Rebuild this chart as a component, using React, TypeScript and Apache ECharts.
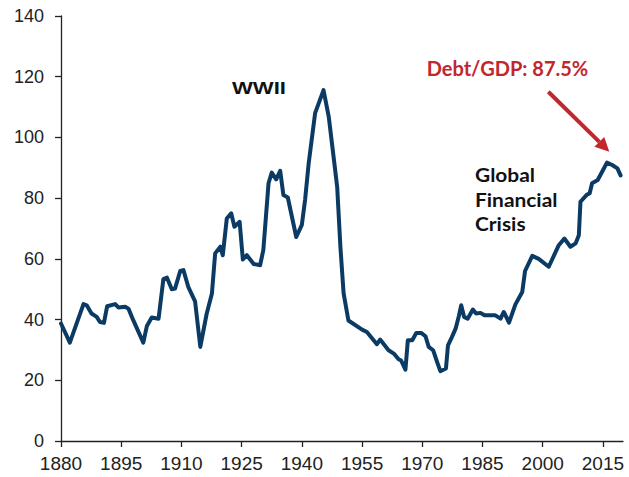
import React, { useEffect, useRef } from "react";
import * as echarts from "echarts";

// Debt/GDP (%), [year] and [value] pairs at turning points
const years = [
  1880.0, 1882.2, 1885.6, 1886.4, 1887.6, 1888.9, 1889.7, 1890.7, 1891.5, 1893.5,
  1894.3, 1896.0, 1896.8, 1898.0, 1900.5, 1901.4, 1902.6, 1904.3, 1905.5, 1906.4,
  1907.6, 1908.4, 1909.7, 1910.5, 1911.7, 1913.4, 1914.7, 1916.3, 1917.6, 1918.4,
  1919.7, 1920.3, 1921.3, 1922.4, 1923.2, 1924.5, 1925.3, 1926.3, 1928.0, 1929.6,
  1930.4, 1931.7, 1932.5, 1933.6, 1934.6, 1935.4, 1936.5, 1938.6, 1940.0, 1940.8,
  1941.7, 1943.3, 1945.4, 1946.7, 1947.9, 1948.8, 1949.6, 1950.4, 1951.6, 1955.0,
  1956.2, 1958.7, 1959.5, 1961.6, 1962.9, 1964.1, 1964.7, 1965.8, 1966.4, 1967.5,
  1968.5, 1969.7, 1970.8, 1971.6, 1972.7, 1973.7, 1974.5, 1975.9, 1976.4, 1977.4,
  1978.3, 1979.1, 1979.7, 1980.4, 1981.3, 1982.6, 1983.4, 1984.5, 1985.5, 1988.2,
  1989.5, 1990.3, 1991.6, 1993.2, 1994.9, 1995.6, 1997.4, 1999.0, 2001.5, 2004.0,
  2005.4, 2006.9, 2008.2, 2009.0, 2009.4, 2010.9, 2011.7, 2012.3, 2013.7, 2014.8,
  2016.0, 2017.3, 2018.6, 2019.4,
];
const debtToGdp = [
  38.7, 32.4, 45.1, 44.7, 42.0, 40.9, 39.2, 38.9, 44.4, 45.1,
  44.0, 44.2, 43.6, 39.8, 32.4, 37.9, 40.7, 40.3, 53.3, 53.8,
  50.0, 50.2, 56.0, 56.3, 50.8, 46.0, 31.0, 42.0, 48.6, 61.8,
  64.0, 61.2, 73.3, 75.0, 70.6, 72.2, 59.8, 61.2, 58.3, 57.9,
  62.9, 84.9, 88.4, 86.2, 89.0, 81.0, 80.2, 67.2, 71.2, 79.4,
  91.5, 108.0, 115.6, 106.8, 93.6, 83.7, 64.0, 48.6, 39.7, 36.7,
  35.9, 31.9, 33.4, 29.9, 28.8, 26.9, 26.6, 23.5, 33.2, 33.2,
  35.6, 35.6, 34.5, 31.0, 29.9, 26.0, 23.0, 23.9, 31.5, 34.3,
  37.0, 41.1, 44.7, 40.9, 40.3, 43.3, 42.0, 42.2, 41.4, 41.4,
  40.3, 42.5, 39.0, 45.0, 49.1, 56.0, 61.0, 60.0, 57.4, 64.5,
  66.7, 64.0, 65.1, 67.8, 78.8, 81.0, 81.6, 84.9, 86.0, 88.7,
  91.7, 90.9, 89.8, 87.5,
];
const xTickYears = [1880, 1895, 1910, 1925, 1940, 1955, 1970, 1985, 2000, 2015];
const xMin = 1880;
const xMax = 2020;
const yTicks = [0, 20, 40, 60, 80, 100, 120, 140];

const wwiiLabel = "WWII";
const gfcLabel = "Global\nFinancial\nCrisis";
const debtLabel = "Debt/GDP: 87.5%";

const LINE_COLOR = "#0b3b64";
const RED = "#c1272d";
const AXIS_COLOR = "#222222";

export default function App() {
  const ref = useRef<HTMLDivElement>(null);

  useEffect(() => {
    if (!ref.current) return;
    const chart = echarts.init(ref.current, undefined, { renderer: "svg" });

    // arrow geometry (annotation)
    const start = [548.3, 91.7];
    const tip = [609.3, 151.7];
    const dx = tip[0] - start[0];
    const dy = tip[1] - start[1];
    const len = Math.hypot(dx, dy);
    const ux = dx / len;
    const uy = dy / len;
    const headLen = 14;
    const headHalf = 7;
    const bx = tip[0] - ux * headLen;
    const by = tip[1] - uy * headLen;
    const nx = -uy;
    const ny = ux;

    chart.setOption({
      animation: false,
      backgroundColor: "#ffffff",
      grid: { left: 61, right: 6, top: 16, bottom: 36, containLabel: false },
      xAxis: {
        type: "value",
        min: xMin,
        max: xMax,
        axisLine: { show: true, lineStyle: { color: AXIS_COLOR, width: 1.3 } },
        axisTick: {
          show: true,
          length: 6,
          customValues: xTickYears,
          lineStyle: { color: AXIS_COLOR, width: 1.3 },
        },
        axisLabel: {
          customValues: xTickYears,
          margin: 13,
          color: AXIS_COLOR,
          fontSize: 19,
          fontFamily: "Liberation Sans, Arial, sans-serif",
          formatter: (v: number) => String(v),
        },
        splitLine: { show: false },
      },
      yAxis: {
        type: "value",
        min: yTicks[0],
        max: yTicks[yTicks.length - 1],
        interval: 20,
        axisLine: { show: true, lineStyle: { color: AXIS_COLOR, width: 1.3 } },
        axisTick: { show: true, length: 6, lineStyle: { color: AXIS_COLOR, width: 1.3 } },
        axisLabel: {
          margin: 17,
          color: AXIS_COLOR,
          fontSize: 18,
          fontFamily: "Liberation Sans, Arial, sans-serif",
        },
        splitLine: { show: false },
      },
      series: [
        {
          type: "line",
          data: years.map((y, i) => [y, debtToGdp[i]]),
          showSymbol: false,
          symbol: "none",
          lineStyle: { color: LINE_COLOR, width: 4, join: "round", cap: "round" },
        },
      ],
      graphic: [
        {
          type: "text",
          x: 232,
          y: 79,
          scaleX: 1.3,
          style: {
            text: wwiiLabel,
            fill: "#111",
            font: 'bold 17px "Liberation Sans", Arial, sans-serif',
            textAlign: "left",
            textVerticalAlign: "top",
          },
        },
        {
          type: "text",
          x: 475,
          y: 162,
          scaleX: 1.1,
          style: {
            text: gfcLabel,
            fill: "#111",
            font: 'bold 19px Lato, sans-serif',
            lineHeight: 24.7,
            textAlign: "left",
            textVerticalAlign: "top",
          },
        },
        {
          type: "text",
          x: 426.7,
          y: 58,
          scaleX: 1.0,
          style: {
            text: debtLabel,
            fill: RED,
            font: 'bold 20px Lato, sans-serif',
            textAlign: "left",
            textVerticalAlign: "top",
          },
        },
        {
          type: "line",
          shape: { x1: start[0], y1: start[1], x2: bx, y2: by },
          style: { stroke: RED, lineWidth: 4 },
        },
        {
          type: "polygon",
          shape: {
            points: [
              [tip[0], tip[1]],
              [bx + nx * headHalf, by + ny * headHalf],
              [bx - nx * headHalf, by - ny * headHalf],
            ],
          },
          style: { fill: RED },
        },
      ],
    });

    return () => chart.dispose();
  }, []);

  return (
    <div
      ref={ref}
      style={{ position: "fixed", left: 0, top: 0, width: 629, height: 477, background: "#fff" }}
    />
  );
}
